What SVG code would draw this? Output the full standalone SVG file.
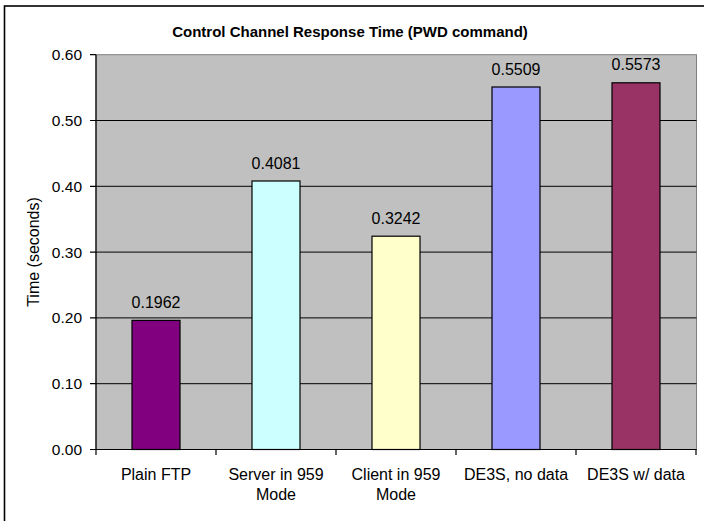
<svg xmlns="http://www.w3.org/2000/svg" width="704" height="521" viewBox="0 0 704 521">
<style>
text{font-family:"Liberation Sans",Arial,sans-serif;fill:#000}
.t{font-size:15px;font-weight:bold;text-anchor:middle}
.y{font-size:15.5px;text-anchor:end}
.v{font-size:16px;text-anchor:middle}
.x{font-size:16px;text-anchor:middle}
.grid{stroke:#000;stroke-width:1}
.bar{stroke:#000;stroke-width:1.2}
.ax{stroke:#000;stroke-width:1.2;fill:none}
</style>
<rect x="0" y="0" width="704" height="521" fill="#fff"/>
<rect x="4.5" y="6" width="720" height="530" fill="none" stroke="#000" stroke-width="1.6"/>
<text class="t" x="350" y="37">Control Channel Response Time (PWD command)</text>
<g id="plot">
<rect x="96" y="54.7" width="600.5" height="394.8" fill="#C0C0C0" stroke="#808080" stroke-width="1"/>
<g id="gridlines">
<line class="grid" x1="96" y1="383.7" x2="696.5" y2="383.7"/>
<line class="grid" x1="96" y1="317.9" x2="696.5" y2="317.9"/>
<line class="grid" x1="96" y1="252.1" x2="696.5" y2="252.1"/>
<line class="grid" x1="96" y1="186.3" x2="696.5" y2="186.3"/>
<line class="grid" x1="96" y1="120.5" x2="696.5" y2="120.5"/>
</g>
</g>
<g id="bars">
<g id="bar-plain-ftp"><rect class="bar" x="132" y="320.4" width="48" height="129.1" fill="#800080"/><text class="v" x="156" y="307.5">0.1962</text></g>
<g id="bar-server-959"><rect class="bar" x="252" y="181" width="48" height="268.5" fill="#CCFFFF"/><text class="v" x="276" y="168.5">0.4081</text></g>
<g id="bar-client-959"><rect class="bar" x="372" y="236.2" width="48" height="213.3" fill="#FFFFCC"/><text class="v" x="396" y="223.5">0.3242</text></g>
<g id="bar-de3s-nodata"><rect class="bar" x="492" y="87" width="48" height="362.5" fill="#9999FF"/><text class="v" x="516" y="74.5">0.5509</text></g>
<g id="bar-de3s-data"><rect class="bar" x="612" y="82.8" width="48" height="366.7" fill="#993366"/><text class="v" x="636" y="70.3">0.5573</text></g>
</g>
<g id="axes">
<path class="ax" d="M96 54.7 V449.5 H696.5"/>
<path class="ax" d="M90 54.7 H96 M90 120.5 H96 M90 186.3 H96 M90 252.1 H96 M90 317.9 H96 M90 383.7 H96 M90 449.5 H96"/>
<path class="ax" d="M96 449.5 V455 M216 449.5 V455 M336 449.5 V455 M456 449.5 V455 M576 449.5 V455 M696 449.5 V455"/>
</g>
<g id="ylabels">
<text class="y" x="82" y="60.2">0.60</text>
<text class="y" x="82" y="126">0.50</text>
<text class="y" x="82" y="191.8">0.40</text>
<text class="y" x="82" y="257.6">0.30</text>
<text class="y" x="82" y="323.4">0.20</text>
<text class="y" x="82" y="389.2">0.10</text>
<text class="y" x="82" y="455">0.00</text>
</g>
<text class="v" transform="translate(38.5 252) rotate(-90)">Time (seconds)</text>
<g id="xlabels">
<text class="x" x="156" y="480">Plain FTP</text>
<text class="x" x="276" y="480">Server in 959</text>
<text class="x" x="276" y="500">Mode</text>
<text class="x" x="396" y="480">Client in 959</text>
<text class="x" x="396" y="500">Mode</text>
<text class="x" x="516" y="480">DE3S, no data</text>
<text class="x" x="636" y="480">DE3S w/ data</text>
</g>
</svg>
